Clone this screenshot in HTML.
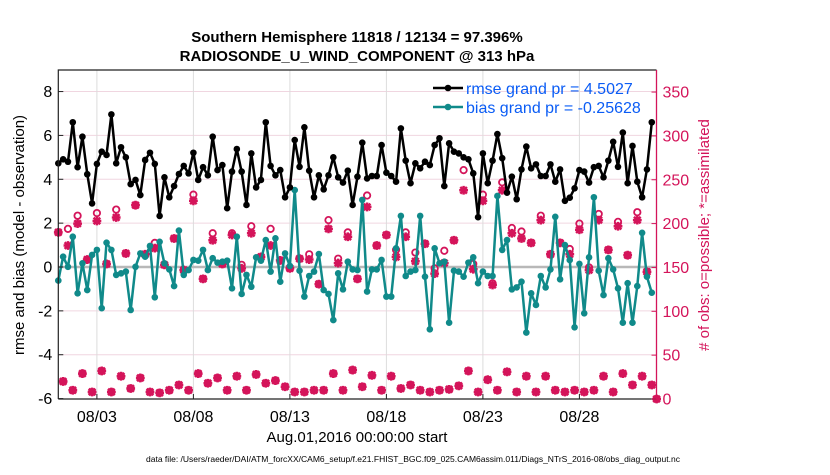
<!DOCTYPE html>
<html><head><meta charset="utf-8"><style>
body{margin:0;background:#fff;}
svg text{font-family:"Liberation Sans",Arial,sans-serif;}
</style></head><body>
<svg id="chart" width="830" height="470" viewBox="0 0 830 470" xmlns="http://www.w3.org/2000/svg">
<rect width="830" height="470" fill="#fff"/>
<g id="grid"></g>
<g id="zero"></g>
<g id="obs"></g>
<g id="bias"></g>
<g id="rmse"></g>
<g id="axes"></g>
<text x="357" y="42" text-anchor="middle" font-size="15" font-weight="bold">Southern Hemisphere 11818 / 12134 = 97.396%</text>
<text x="357" y="61" text-anchor="middle" font-size="15" font-weight="bold">RADIOSONDE_U_WIND_COMPONENT @ 313 hPa</text>
<text transform="translate(24,235) rotate(-90)" text-anchor="middle" font-size="15">rmse and bias (model - observation)</text>
<text transform="translate(709,235) rotate(-90)" text-anchor="middle" font-size="15" fill="#d4145a"># of obs: o=possible; *=assimilated</text>
<text x="357" y="442" text-anchor="middle" font-size="15">Aug.01,2016 00:00:00 start</text>
<text x="413" y="462" text-anchor="middle" font-size="8.6" textLength="534" lengthAdjust="spacingAndGlyphs">data file: /Users/raeder/DAI/ATM_forcXX/CAM6_setup/f.e21.FHIST_BGC.f09_025.CAM6assim.011/Diags_NTrS_2016-08/obs_diag_output.nc</text>
<g>
<g>
<line x1="433" y1="88" x2="463" y2="88" stroke="#000" stroke-width="2.5"/><circle cx="448" cy="88" r="3.3" fill="#000"/>
<text x="466" y="94" font-size="16" fill="#0a5cf5">rmse grand pr = 4.5027</text></g>
<g>
<line x1="433" y1="107" x2="463" y2="107" stroke="#108a8a" stroke-width="2.5"/><circle cx="448" cy="107" r="3.3" fill="#108a8a"/>
<text x="466" y="113" font-size="16" fill="#0a5cf5">bias grand pr = -0.25628</text></g>
</g>
</svg>
<script>
const rmseVals=[4.73,4.91,4.80,6.60,4.55,5.94,4.23,2.90,4.70,5.26,5.11,6.96,4.73,5.46,5.00,3.78,3.97,3.28,4.88,5.21,4.70,2.33,4.09,3.18,3.69,4.24,4.61,4.27,5.21,3.97,4.55,4.18,
5.94,4.42,4.65,2.68,4.35,5.38,4.35,2.83,5.18,3.63,3.97,6.60,4.61,4.18,4.42,3.18,3.63,5.79,4.57,6.37,4.39,3.18,4.18,3.54,4.18,5.00,4.09,3.85,4.39,2.83,4.12,
5.67,4.04,4.15,4.15,5.56,4.30,4.15,3.89,6.32,4.85,3.82,4.73,4.50,4.80,4.65,5.56,5.87,3.69,5.64,5.26,5.18,5.00,4.91,4.27,2.27,5.18,3.82,4.85,6.06,4.96,3.39,
4.12,3.09,4.45,5.49,4.50,4.68,4.15,4.15,4.68,3.89,4.45,3.02,3.16,3.59,4.42,4.35,3.85,4.55,4.61,4.09,4.85,5.71,4.57,6.13,3.82,5.52,3.89,3.18,4.45,6.60,null];
const biasVals=[-0.62,0.47,0.01,1.38,-1.20,0.17,-1.05,0.55,0.78,-1.88,1.11,0.78,-0.36,-0.29,-0.21,-1.96,0.01,0.62,0.47,0.96,-1.38,1.15,0.17,-0.11,-0.87,1.66,-0.36,-0.14,0.32,0.29,0.78,-0.14,
0.40,0.20,0.24,0.29,-0.97,1.38,-1.23,-0.36,-0.90,0.44,0.29,1.23,-0.21,1.31,-0.67,0.62,0.05,3.51,-0.17,-1.35,-0.41,-0.21,0.59,-1.05,-1.23,-2.42,-0.29,-1.02,0.24,-0.11,-0.14,
3.06,-1.12,-0.11,-0.11,0.32,-1.35,-1.35,0.85,2.33,-0.41,-0.21,-0.14,2.33,-0.44,-2.84,0.85,0.17,0.24,-2.54,-0.17,-0.21,-0.44,0.20,0.44,-0.74,-0.21,-0.41,-0.41,3.24,0.78,1.23,
-1.02,-0.93,-0.67,-2.99,-1.20,-1.73,-0.41,-0.93,-0.11,2.29,-0.56,1.00,0.32,-2.75,0.14,-2.11,0.44,3.18,-0.17,-1.28,0.40,-0.11,-0.97,-2.54,-0.74,-2.54,-0.87,1.56,-0.44,-1.17,null];
const possibleVals=[190,20,194,10,209,29,159,8,212,32,154,8,216,26,166,12,221,24,165,8,178,7,153,10,183,16,147,10,233,29,137,18,
189,24,154,10,189,26,153,10,197,28,162,18,194,21,158,14,149,8,160,8,165,10,131,10,204,29,160,10,190,33,137,
14,232,27,175,10,187,26,170,12,190,16,167,10,177,8,149,10,169,11,181,15,261,32,154,8,233,22,132,10,247,31,
195,8,191,26,178,8,209,26,165,10,178,8,171,10,200,8,150,10,211,26,170,8,202,29,164,16,213,26,145,16,0];
const assimVals=[190,20,175,10,200,29,159,8,203,32,154,8,207,26,166,12,221,24,165,8,172,7,153,10,183,16,147,10,226,29,137,18,
181,24,154,10,187,26,149,10,189,28,162,18,175,21,158,14,149,8,160,8,159,10,131,10,194,29,155,10,185,33,137,
14,219,27,175,10,187,26,162,12,185,16,157,10,177,8,143,10,155,11,181,15,238,32,148,8,226,22,130,10,238,31,
189,8,183,26,178,8,204,26,165,10,178,8,165,10,193,8,147,10,204,26,170,8,197,29,164,16,204,26,145,16,0];
const xTickDays=[3,8,13,18,23,28];
const xTickLabels=["08/03","08/08","08/13","08/18","08/23","08/28"];
const yTicks=[-6,-4,-2,0,2,4,6,8];
const y2Ticks=[0,50,100,150,200,250,300,350];

const NS="http://www.w3.org/2000/svg";
const L=58.3,R=656.5,T=70,B=399;
const xS=d=>L+(d-1)*19.3;
const yS=v=>267-v*21.93;
const y2S=c=>399-c*0.877;
const dayOf=i=>1+i/4;
function mk(tag,attrs,parent){const e=document.createElementNS(NS,tag);for(const k in attrs)e.setAttribute(k,attrs[k]);parent.appendChild(e);return e;}
const grid=document.getElementById('grid'),axes=document.getElementById('axes');
yTicks.forEach(v=>{const y=yS(v);if(y>T+1&&y<B-1){const g=mk('line',{x1:L,x2:R,y1:y,y2:y,stroke:'#f0d6e0','stroke-width':1},grid);

}});
xTickDays.forEach(d=>{const x=xS(d);const g=mk('line',{x1:x,x2:x,y1:T,y2:B,stroke:'#dcdcdc','stroke-width':1},grid);

});
const z=mk('line',{x1:L,x2:R,y1:yS(0),y2:yS(0),stroke:'#b8b8b8','stroke-width':2.5},document.getElementById('zero'));


const obs=document.getElementById('obs');const MG='#d4145a';
possibleVals.forEach((c,i)=>{if(c==null)return;const x=xS(dayOf(i)),y=y2S(c);
const o=mk('circle',{cx:x,cy:y,r:3.2,fill:'none',stroke:MG,'stroke-width':1.8},obs);

});
assimVals.forEach((c,i)=>{if(c==null)return;const x=xS(dayOf(i)),y=y2S(c);const s=4.4,s2=3.3;
const g=mk('path',{d:`M${x-s},${y}H${x+s}M${x},${y-s}V${y+s}M${x-s2},${y-s2}L${x+s2},${y+s2}M${x-s2},${y+s2}L${x+s2},${y-s2}`,stroke:MG,'stroke-width':2.5,fill:'none'},obs);

});
function series(vals,color,gid,name){const g=document.getElementById(gid);let d='';
vals.forEach((v,i)=>{if(v==null)return;d+=(d?'L':'M')+xS(dayOf(i)).toFixed(1)+','+yS(v).toFixed(1);});
const p=mk('path',{d:d,stroke:color,'stroke-width':2.5,fill:'none','stroke-linejoin':'round'},g);


vals.forEach((v,i)=>{if(v==null)return;const c=mk('circle',{cx:xS(dayOf(i)),cy:yS(v),r:3.3,fill:color},g);

});}
series(biasVals,'#108a8a','bias','bias');
series(rmseVals,'#000','rmse','rmse');
const frame=mk('path',{d:`M${L},${B}V${T}H${R}M${L},${B}H${R}`,stroke:'#222','stroke-width':1.2,fill:'none'},axes);


const ra=mk('line',{x1:R,x2:R,y1:T,y2:B,stroke:MG,'stroke-width':1.3},axes);


yTicks.forEach(v=>{const y=yS(v);mk('line',{x1:L,x2:L+5,y1:y,y2:y,stroke:'#222'},axes);
const t=mk('text',{x:L-6,y:y+5.5,'text-anchor':'end','font-size':16},axes);t.textContent=v;

});
y2Ticks.forEach(c=>{const y=y2S(c);mk('line',{x1:R-5,x2:R,y1:y,y2:y,stroke:MG},axes);
const t=mk('text',{x:R+6,y:y+5.5,'font-size':16,fill:MG},axes);t.textContent=c;

});
xTickDays.forEach((d,k)=>{const x=xS(d);mk('line',{x1:x,x2:x,y1:B,y2:B-5,stroke:'#222'},axes);
const t=mk('text',{x:x,y:B+23,'text-anchor':'middle','font-size':16},axes);t.textContent=xTickLabels[k];

});
</script>
</body></html>
